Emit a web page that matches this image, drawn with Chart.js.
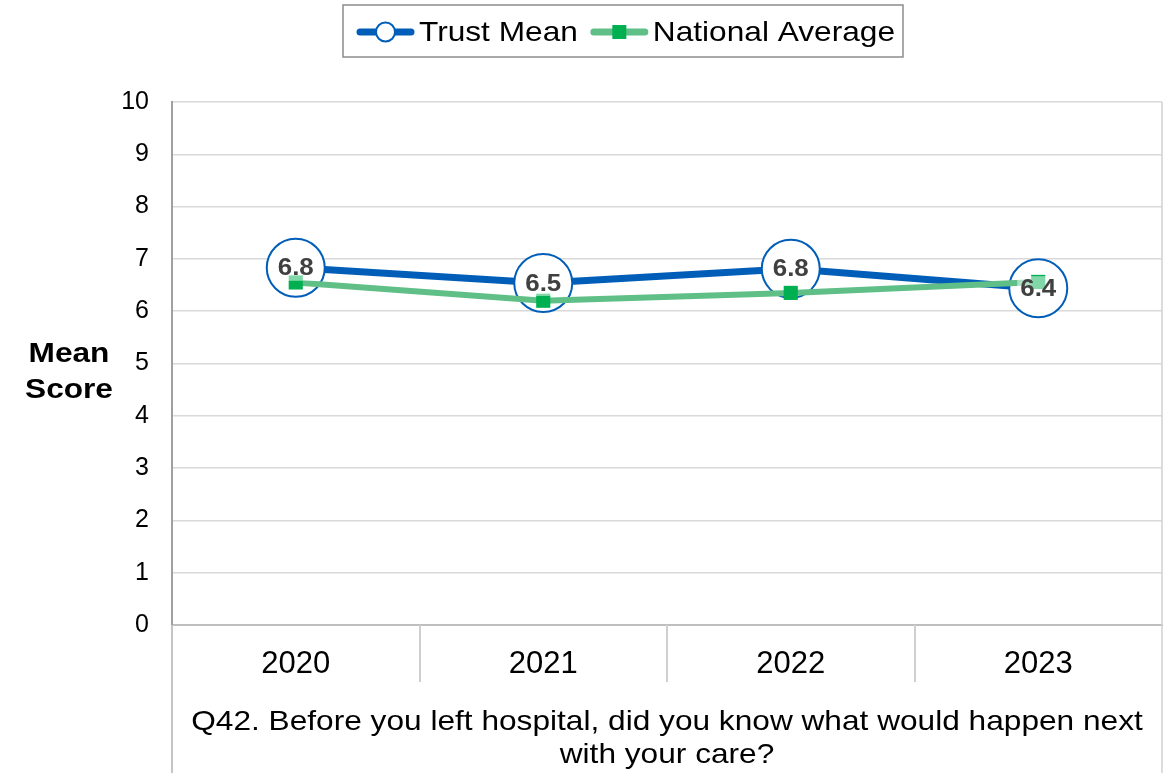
<!DOCTYPE html>
<html><head><meta charset="utf-8">
<script src="https://cdn.jsdelivr.net/npm/chart.js@4/dist/chart.umd.min.js"></script>
<style>html,body{margin:0;padding:0;background:#fff;} #wrap{width:1168px;height:773px;position:relative;}</style>
</head><body><div id="wrap"><canvas id="c" width="1168" height="773"></canvas></div>
<script>
const categories = ['2020', '2021', '2022', '2023'];
const trustMean = [6.83, 6.54, 6.81, 6.44];
const nationalAverage = [6.55, 6.20, 6.35, 6.56];
const yTicks = [0, 1, 2, 3, 4, 5, 6, 7, 8, 9, 10];
const seriesNames = ['Trust Mean', 'National Average'];
const yTitle = ['Mean', 'Score'];
const xTitle = ['Q42. Before you left hospital, did you know what would happen next', 'with your care?'];

const BLUE = '#005EB8';
const GREEN_LINE = '#5fbf86';
const GREEN_MARK = '#00b050';
const FONT = 'Arial, "Liberation Sans", sans-serif';
const SX = 1.13; // horizontal stretch of the reference's text

function sText(ctx, text, x, y, align) {
  ctx.save();
  ctx.translate(x, y);
  ctx.scale(SX, 1);
  ctx.textAlign = align;
  ctx.fillText(text, 0, 0);
  ctx.restore();
}

const framePlugin = {
  id: 'frame',
  beforeDatasetsDraw(chart) {
    const { ctx, chartArea: a } = chart;
    const n = categories.length;
    const w = (a.right - a.left) / n;
    ctx.save();
    ctx.strokeStyle = '#d0d0d0';
    ctx.lineWidth = 1.5;
    ctx.beginPath(); ctx.moveTo(a.right, a.top); ctx.lineTo(a.right, chart.height); ctx.stroke();
    ctx.strokeStyle = '#cfcfcf';
    ctx.lineWidth = 2;
    for (let i = 1; i < n; i++) {
      const x = Math.round(a.left + i * w);
      ctx.beginPath(); ctx.moveTo(x, a.bottom); ctx.lineTo(x, a.bottom + 57); ctx.stroke();
    }
    ctx.strokeStyle = '#c4c4c4';
    ctx.beginPath(); ctx.moveTo(a.left, a.bottom); ctx.lineTo(a.left, chart.height); ctx.stroke();
    ctx.restore();
  },
  afterDatasetsDraw(chart) {
    const { ctx } = chart;
    const meta = chart.getDatasetMeta(0);
    ctx.save();
    ctx.font = 'bold 24px ' + FONT;
    ctx.textBaseline = 'middle';
    meta.data.forEach((pt, i) => {
      const t = trustMean[i].toFixed(1);
      const w = ctx.measureText(t).width * 1.08;
      ctx.fillStyle = 'rgba(255,255,255,0.5)';
      ctx.fillRect(pt.x - w / 2 - 3, pt.y - 12, w + 6, 25);
      ctx.fillStyle = '#404040';
      ctx.save();
      ctx.translate(pt.x, pt.y + 1);
      ctx.scale(1.08, 1);
      ctx.textAlign = 'center';
      ctx.fillText(t, 0, 0);
      ctx.restore();
    });
    ctx.restore();
  },
  afterDraw(chart) {
    const { ctx, chartArea: a } = chart;
    ctx.save();
    ctx.fillStyle = '#000';
    ctx.textBaseline = 'middle';
    ctx.font = 'bold 28px ' + FONT;
    sText(ctx, yTitle[0], 69, 354, 'center');
    sText(ctx, yTitle[1], 69, 390, 'center');
    ctx.font = '28px ' + FONT;
    const cx = (a.left + a.right) / 2;
    sText(ctx, xTitle[0], cx, 722, 'center');
    sText(ctx, xTitle[1], cx, 755, 'center');
    // legend
    const boxL = 343, boxR = 903, boxT = 5, boxB = 57;
    ctx.strokeStyle = '#8c8c8c';
    ctx.lineWidth = 1.5;
    ctx.strokeRect(boxL, boxT, boxR - boxL, boxB - boxT);
    const sample = 57, gap = 5, between = 13;
    const w0 = ctx.measureText(seriesNames[0]).width * SX;
    let x = 357;
    const ly = 32;
    ctx.strokeStyle = BLUE; ctx.lineWidth = 7; ctx.lineCap = 'round';
    ctx.beginPath(); ctx.moveTo(x + 3, ly); ctx.lineTo(x + sample - 3, ly); ctx.stroke();
    ctx.lineCap = 'butt';
    ctx.fillStyle = '#fff'; ctx.lineWidth = 2;
    ctx.beginPath(); ctx.arc(x + sample / 2, ly, 9.5, 0, Math.PI * 2); ctx.fill(); ctx.stroke();
    ctx.fillStyle = '#000';
    sText(ctx, seriesNames[0], x + sample + gap, ly + 1, 'left');
    x += sample + gap + w0 + between;
    ctx.strokeStyle = GREEN_LINE; ctx.lineWidth = 7; ctx.lineCap = 'round';
    ctx.beginPath(); ctx.moveTo(x + 3, ly); ctx.lineTo(x + sample - 3, ly); ctx.stroke();
    ctx.lineCap = 'butt';
    ctx.fillStyle = GREEN_MARK;
    ctx.fillRect(x + sample / 2 - 7, ly - 7, 14, 14);
    ctx.fillStyle = '#000';
    sText(ctx, seriesNames[1], x + sample + gap, ly + 1, 'left');
    ctx.restore();
  }
};

new Chart(document.getElementById('c'), {
  type: 'line',
  data: {
    labels: categories,
    datasets: [
      {
        label: seriesNames[0],
        data: trustMean,
        order: 2,
        borderColor: BLUE,
        borderWidth: 7,
        pointRadius: 29,
        pointHoverRadius: 29,
        pointBorderWidth: 2,
        pointBorderColor: BLUE,
        pointBackgroundColor: '#ffffff',
        tension: 0
      },
      {
        label: seriesNames[1],
        data: nationalAverage,
        order: 1,
        borderColor: GREEN_LINE,
        borderWidth: 6,
        pointStyle: 'rect',
        pointRadius: 10,
        pointHoverRadius: 10,
        pointBorderWidth: 0,
        pointBackgroundColor: GREEN_MARK,
        tension: 0
      }
    ]
  },
  options: {
    responsive: false,
    animation: false,
    events: [],
    layout: { autoPadding: false, padding: { top: 102, left: 0, right: 6, bottom: 0 } },
    plugins: { legend: { display: false }, tooltip: { enabled: false } },
    scales: {
      x: {
        offset: true,
        grid: { display: false, drawTicks: false },
        border: { display: true, color: '#bfbfbf', width: 2 },
        ticks: { color: '#000', font: { family: FONT, size: 31 }, padding: 21, maxRotation: 0 },
        afterFit(s) { s.height = 148; s.paddingLeft = 0; s.paddingRight = 0; }
      },
      y: {
        min: 0, max: 10,
        afterBuildTicks(s) { s.ticks = yTicks.map(v => ({ value: v })); },
        grid: { color: '#d9d9d9', lineWidth: 1.5, drawTicks: false },
        border: { display: true, color: '#a0a0a0', width: 2 },
        ticks: { color: '#000', font: { family: FONT, size: 25 }, padding: 23 },
        afterFit(s) { s.width = 172; }
      }
    }
  },
  plugins: [framePlugin]
});
</script>
</body></html>
